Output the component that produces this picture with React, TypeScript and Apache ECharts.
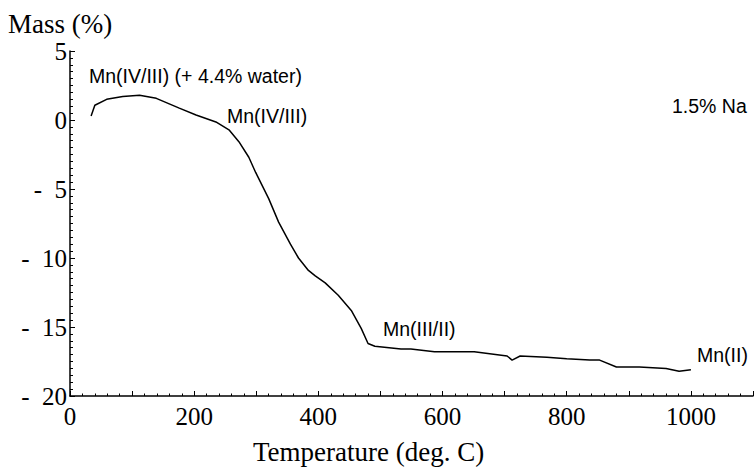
import React, { useEffect, useRef } from "react";
import * as echarts from "echarts";

const temperature = [34, 40, 59, 85, 112, 139, 176, 203, 235, 256, 272, 288, 299, 320, 336, 355, 368, 384, 395, 411, 432, 453, 469, 480, 491, 533, 549, 587, 651, 704, 712, 725, 768, 800, 837, 853, 880, 917, 960, 981, 1000];
const mass = [0.29, 1.07, 1.5, 1.7, 1.79, 1.57, 0.86, 0.36, -0.14, -0.71, -1.57, -2.7, -3.8, -5.7, -7.4, -9.0, -10.0, -10.9, -11.3, -11.8, -12.7, -13.8, -15.1, -16.2, -16.4, -16.6, -16.6, -16.8, -16.8, -17.1, -17.4, -17.1, -17.2, -17.3, -17.4, -17.4, -17.9, -17.9, -18.0, -18.2, -18.1];
const xTickLabels = [0, 200, 400, 600, 800, 1000];
const annotations = [
  { text: "Mn(IV/III) (+ 4.4% water)", x: 89, y: 77 },
  { text: "Mn(IV/III)", x: 227, y: 117 },
  { text: "1.5% Na", x: 672, y: 107 },
  { text: "Mn(III/II)", x: 383, y: 330 },
  { text: "Mn(II)", x: 697, y: 356 },
];

const SERIF = "'Liberation Serif', 'DejaVu Serif', serif";
const SANS = "'Liberation Sans', Arial, sans-serif";

export default function App() {
  const ref = useRef<HTMLDivElement>(null);
  useEffect(() => {
    if (!ref.current) return;
    const chart = echarts.init(ref.current, null, { renderer: "svg" });
    const data = temperature.map((t, i) => [t, mass[i]]);
    chart.setOption({
      animation: false,
      backgroundColor: "#fff",
      grid: { left: 70, top: 51, width: 687, height: 350, containLabel: false },
      xAxis: {
        type: "value",
        min: 0,
        max: 1100,
        interval: 100,
        name: "Temperature (deg. C)",
        nameLocation: "middle",
        nameGap: 42,
        nameTextStyle: { fontFamily: SERIF, fontSize: 27, color: "#000", padding: [0, 86, 0, 0] },
        axisLine: { show: true, onZero: false, lineStyle: { color: "#000", width: 1.5 } },
        axisTick: { show: true, inside: true, length: 5, lineStyle: { color: "#000", width: 1 } },
        minorTick: { show: true, splitNumber: 5, length: 2.5, lineStyle: { color: "#000", width: 1 } },
        splitLine: { show: false },
        axisLabel: {
          fontFamily: SERIF,
          fontSize: 25,
          color: "#000",
          margin: 8,
          formatter: (v: number) => (xTickLabels.includes(v) ? String(v) : ""),
        },
      },
      yAxis: {
        type: "value",
        min: -20,
        max: 5,
        interval: 5,
        name: "Mass (%)",
        nameLocation: "end",
        nameGap: 14,
        nameTextStyle: { fontFamily: SERIF, fontSize: 27, color: "#000", align: "left", padding: [0, 0, 0, -62] },
        axisLine: { show: true, onZero: false, lineStyle: { color: "#000", width: 1.5 } },
        axisTick: { show: true, inside: true, length: 5, lineStyle: { color: "#000", width: 1 } },
        minorTick: { show: true, splitNumber: 10, length: 3, lineStyle: { color: "#000", width: 1 } },
        splitLine: { show: false },
        axisLabel: {
          fontFamily: SERIF,
          fontSize: 25,
          color: "#000",
          margin: 3,
          formatter: (v: number) => (v < 0 ? "-\u00a0\u00a0" + Math.abs(v) : String(v)),
        },
      },
      series: [
        {
          type: "line",
          data,
          showSymbol: false,
          smooth: false,
          lineStyle: { color: "#000", width: 1.5 },
        },
      ],
      graphic: annotations.map((a) => ({
        type: "text",
        left: a.x,
        top: a.y - 11,
        style: { text: a.text, fontFamily: SANS, fontSize: 19.5, fill: "#000" },
      })),
    });
    return () => chart.dispose();
  }, []);
  return <div ref={ref} style={{ position: "fixed", left: 0, top: 0, width: 756, height: 470 }} />;
}
